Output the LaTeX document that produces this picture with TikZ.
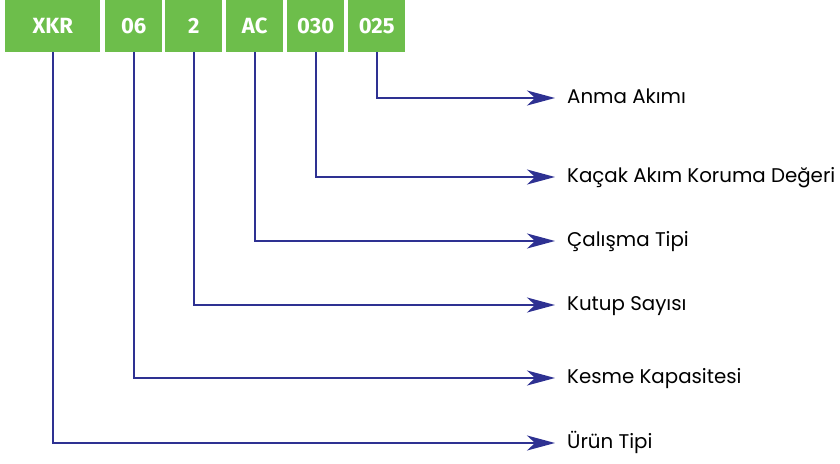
\documentclass[tikz,border=0pt]{standalone}
\usepackage{fontspec}
\setmainfont{Poppins}
\newfontfamily\codefont{Fira Sans}
\usetikzlibrary{arrows.meta,positioning}

\definecolor{codegreen}{HTML}{6DBE4B}
\definecolor{linkblue}{HTML}{2E3192}

\begin{document}
\begin{tikzpicture}[x=1pt,y=-1pt,
  code/.style={fill=codegreen,text=white,minimum height=52pt,inner sep=0pt,
    anchor=north west,font=\codefont\bfseries\fontsize{22}{22}\selectfont},
  info/.style={anchor=west,inner xsep=12pt,inner ysep=0pt,text height=14pt,text depth=4pt,
    font=\fontsize{19.8}{20}\selectfont},
  link/.style={linkblue,line width=2pt,-{Stealth[length=28pt,width=15pt,inset=8pt]}}]
\useasboundingbox (0,0) rectangle (840,463);
% code boxes
\node[code,minimum width=95pt] (xkr) at (5,0) {XKR};
\node[code,minimum width=57pt] (kap) at (105,0) {06};
\node[code,minimum width=57pt] (kut) at (165,0) {2};
\node[code,minimum width=57pt] (tip) at (226,0) {AC};
\node[code,minimum width=57pt] (kac) at (287,0) {030};
\node[code,minimum width=57pt] (anm) at (348,0) {025};
% meanings
\node[info] (anma) at (555,98) {Anma Akımı};
\node[info] (kacak) at (555,177) {Kaçak Akım Koruma Değeri};
\node[info] (calisma) at (555,241) {Çalışma Tipi};
\node[info] (kutup) at (555,305) {Kutup Sayısı};
\node[info] (kesme) at (555,378) {Kesme Kapasitesi};
\node[info] (urun) at (555,443) {Ürün Tipi};
% links
\draw[link] (anm.south) |- (anma.west);
\draw[link] (kac.south) |- (kacak.west);
\draw[link] (tip.south) |- (calisma.west);
\draw[link] (kut.south) |- (kutup.west);
\draw[link] (kap.south) |- (kesme.west);
\draw[link] (xkr.south) |- (urun.west);
\end{tikzpicture}
\end{document}
